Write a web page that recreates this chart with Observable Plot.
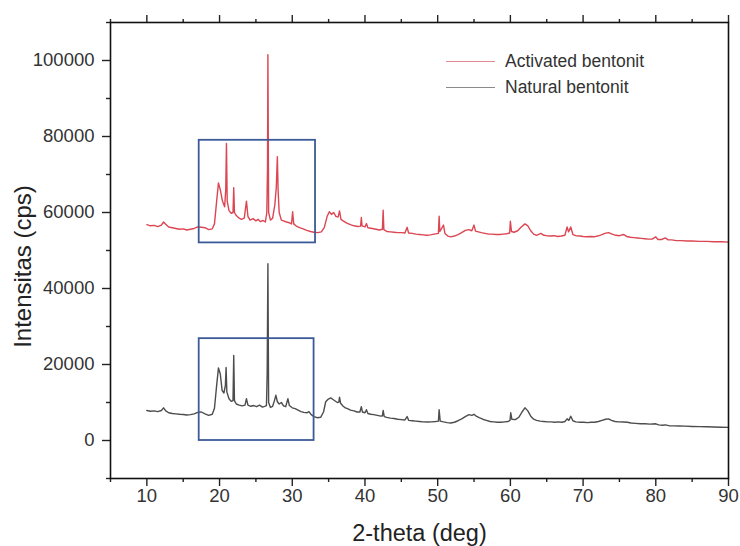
<!DOCTYPE html>
<html>
<head>
<meta charset="utf-8">
<script src="https://cdn.jsdelivr.net/npm/d3@7"></script>
<script src="https://cdn.jsdelivr.net/npm/@observablehq/plot@0.6"></script>
<style>
  html, body { margin: 0; padding: 0; background: #fff; }
  #wrap { position: relative; width: 740px; height: 546px; font-family: "Liberation Sans", Arial, sans-serif; }
  #legend { position: absolute; left: 446px; top: 48px; font-size: 17.5px; color: #333; }
  .row { display: flex; align-items: center; height: 26px; }
  .sw { width: 49px; height: 0; border-top: 1.5px solid; margin-right: 10px; }
</style>
</head>
<body>
<div id="wrap">
  <div id="chart"></div>
  <div id="legend">
    <div class="row"><span class="sw" style="border-color:#e48a93"></span>Activated bentonit</div>
    <div class="row"><span class="sw" style="border-color:#8a8a8a"></span>Natural bentonit</div>
  </div>
</div>
<script>
// ---- Data ----
const activatedTheta = [10,10.5,11,11.5,12,12.3,12.6,13,13.5,14,14.5,15,15.5,16,16.5,17,17.5,18,18.5,19,19.3,19.6,19.85,20.1,20.4,20.7,20.85,20.95,21.05,21.3,21.6,21.85,21.95,22.05,22.3,22.7,23.0,23.4,23.7,23.9,24.2,24.6,25.0,25.3,25.6,26.0,26.3,26.5,26.6,26.65,26.75,27.0,27.3,27.6,27.8,27.95,28.05,28.2,28.5,28.8,29.2,29.6,29.9,30.05,30.2,30.5,31,31.5,32,32.5,33,33.5,34,34.4,34.8,35.1,35.4,35.7,36,36.3,36.5,36.7,37,37.5,38,38.5,39,39.4,39.5,39.6,40,40.2,40.4,41,41.5,42,42.4,42.5,42.6,43,43.5,44,44.5,45,45.5,45.8,46,46.5,47,47.5,48,48.5,49,49.5,50.1,50.2,50.3,50.8,51,51.4,51.8,52.3,52.8,53.3,53.8,54.3,54.7,55,55.2,55.6,56,56.5,57,57.5,58,58.5,59,59.5,59.9,60,60.15,60.5,61,61.5,62,62.4,62.8,63.2,63.6,64.2,64.6,65,65.5,66,66.5,67,67.5,67.8,68,68.3,68.6,69,69.6,70,70.5,71,71.5,72,72.5,73,73.5,74,74.5,75,75.6,76,76.5,77,77.5,78,78.5,79,79.5,80,80.3,80.8,81.3,81.7,82.2,82.8,83.5,84.3,85,86,87,88,89,90];
const activatedCps = [56800,56500,56600,56300,56700,57500,56900,56200,56000,55800,55600,55700,55400,55600,55800,56200,56100,56000,55500,55700,57000,63000,67800,66000,63000,61500,66000,78200,63000,60500,59800,60000,66500,60000,59200,58500,58200,58500,63000,59000,58000,58400,57800,58200,57600,57900,57500,60000,72500,101500,60000,58000,58500,62000,66500,74700,66000,60000,58000,57800,57500,57300,57000,60200,57000,56500,56000,55700,55300,55000,54800,54700,54900,56000,59000,60200,59500,60000,59000,58800,60400,58200,57800,57200,56800,56500,56300,56400,58700,56500,56200,57100,56000,55800,55600,55400,55600,60600,55500,55000,54900,54800,54700,54700,54600,56100,54600,54500,54300,54200,54100,54000,54100,54300,54500,59000,55000,56700,54500,53800,53600,53800,54200,54700,55300,55500,55200,56700,55100,54900,54700,54500,54300,54300,54200,54200,54300,54400,54600,57700,55000,54800,55200,56200,57000,56500,55200,54300,54000,54500,54000,53900,53800,53900,53700,53800,54000,56200,54900,56200,54200,53900,53800,53700,53600,53700,53600,53800,54100,54500,54700,54300,54000,53900,54200,53700,53500,53400,53300,53200,53100,53000,53000,53600,52900,52900,53300,52800,52800,52600,52600,52500,52500,52400,52400,52300,52300,52200];

const naturalTheta = [10,10.5,11,11.5,12,12.3,12.6,13,13.5,14,14.5,15,15.5,16,16.5,17,17.5,18,18.5,19,19.3,19.6,19.85,20.1,20.35,20.6,20.8,20.9,21.0,21.3,21.6,21.85,21.95,22.05,22.3,22.7,23.1,23.5,23.7,23.9,24.3,24.7,25.1,25.5,25.9,26.2,26.45,26.55,26.65,26.75,27.0,27.3,27.55,27.75,27.95,28.2,28.5,28.8,29.1,29.4,29.6,30,30.4,30.8,31.2,31.6,32,32.3,32.6,33,33.4,33.9,34.3,34.6,34.9,35.3,35.6,35.9,36.2,36.4,36.5,36.65,37,37.3,37.6,38,38.5,38.9,39.3,39.5,39.65,40,40.2,40.4,40.8,41.2,41.7,42.2,42.4,42.5,42.65,43,43.5,44,44.5,45,45.5,45.8,46,46.5,47,47.5,48,48.6,49.2,49.7,50.1,50.2,50.35,50.8,51.3,51.8,52.3,52.8,53.3,53.8,54.3,54.7,55,55.3,55.7,56.2,56.7,57.2,57.7,58.2,58.7,59.2,59.7,59.95,60.05,60.2,60.7,61.2,61.6,62,62.4,62.8,63.2,63.6,64.1,64.6,65.1,65.6,66.1,66.6,67.1,67.5,67.8,68.05,68.3,68.6,69,69.6,70.1,70.6,71.1,71.6,72.1,72.6,73.1,73.5,73.9,74.4,74.9,75.6,76.1,76.6,77.2,77.9,78.5,79.2,80,80.4,80.9,81.3,81.8,82.5,83.2,84,85,86,87,88,89,90];
const naturalCps = [7900,7700,7800,7600,7900,8600,7800,7300,7100,7000,6900,6850,6700,6800,7000,7400,7500,7000,6600,6900,8500,14500,19100,17500,13200,12500,14500,19200,12800,11000,10300,10500,22400,10500,9600,9300,9100,9300,11000,9300,9000,9200,8900,9300,8800,9000,9200,17700,46500,10000,8700,9000,10500,11900,10200,9600,10000,9100,8900,11000,9200,8600,8400,8000,7600,7400,7300,7600,6800,6300,6000,6100,7500,10200,10800,11200,10800,10400,10000,10100,11400,9800,9000,8600,8400,8000,7800,7500,7500,8900,7500,7300,8100,7100,6900,6800,6600,6400,6500,7900,6300,6100,5900,5800,5600,5500,5400,6300,5300,5200,5100,5000,4900,4850,4900,5000,5100,8100,5100,4900,4700,4600,4800,5200,5700,6300,6800,6600,6900,6400,6000,5600,5300,5000,4900,4800,4800,4900,5000,5300,7300,5600,5500,6200,7500,8600,7800,6400,5600,5300,5100,5000,4900,4900,4800,4900,4800,5000,5700,5300,6400,5200,4900,4800,4800,4700,4800,4800,5000,5300,5600,5700,5300,5000,4900,4850,4800,4600,4500,4400,4400,4300,4400,4100,4000,4100,3900,3850,3800,3770,3700,3650,3600,3550,3500,3450];

// highlighted regions (blue boxes)
const boxX1 = [17.2, 17.2];
const boxX2 = [33.2, 33.0];
const boxY1 = [52000, 0];
const boxY2 = [79000, 26800];

// ticks
const xMajor = [10,20,30,40,50,60,70,80,90];
const xMinor = [5,15,25,35,45,55,65,75,85];
const yMajor = [0,20000,40000,60000,80000,100000];
const yMinor = [-10000,10000,30000,50000,70000,90000,110000];

const activated = activatedTheta.map((t, i) => ({theta: t, cps: activatedCps[i]}));
const natural = naturalTheta.map((t, i) => ({theta: t, cps: naturalCps[i]}));
const boxes = boxX1.map((x1, i) => ({x1, x2: boxX2[i], y1: boxY1[i], y2: boxY2[i]}));

const chart = Plot.plot({
  width: 740,
  height: 546,
  marginLeft: 110,
  marginRight: 12,
  marginTop: 22,
  marginBottom: 68,
  style: {fontFamily: '"Liberation Sans", Arial, sans-serif', fontSize: "18.5px", color: "#333", background: "#fff"},
  x: {domain: [5, 90]},
  y: {domain: [-10000, 110000]},
  marks: [
    Plot.line(natural, {x: "theta", y: "cps", stroke: "#4d4d4d", strokeWidth: 1.4}),
    Plot.line(activated, {x: "theta", y: "cps", stroke: "#db4652", strokeWidth: 1.4}),
    Plot.rect(boxes, {x1: "x1", x2: "x2", y1: "y1", y2: "y2", fill: "none", stroke: "#3c5a98", strokeWidth: 1.8}),
    Plot.axisX({ticks: xMajor, tickSize: 8, tickPadding: 2, label: null, stroke: "#222", strokeWidth: 1.4}),
    Plot.axisX({ticks: xMinor, tickSize: 4, tickFormat: () => "", label: null, stroke: "#222", strokeWidth: 1.4}),
    Plot.axisX({anchor: "top", ticks: xMajor, tickSize: 8, tickFormat: () => "", label: null, stroke: "#222", strokeWidth: 1.4}),
    Plot.axisX({anchor: "top", ticks: xMinor, tickSize: 4, tickFormat: () => "", label: null, stroke: "#222", strokeWidth: 1.4}),
    Plot.axisY({ticks: yMajor, tickSize: 8, tickPadding: 8, label: null, tickFormat: d => String(d), stroke: "#222", strokeWidth: 1.4}),
    Plot.axisY({ticks: yMinor, tickSize: 4, tickFormat: () => "", label: null, stroke: "#222", strokeWidth: 1.4}),
    Plot.frame({stroke: "#111", strokeWidth: 1.6}),
    Plot.text(["Intensitas (cps)"], {frameAnchor: "left", textAnchor: "middle", dx: -87, dy: 16, rotate: -90, text: d => d, fontSize: 24, fill: "#222"}),
    Plot.text(["2-theta (deg)"], {frameAnchor: "bottom", textAnchor: "middle", dy: 62, text: d => d, fontSize: 23.5, fill: "#222"})
  ]
});
document.getElementById("chart").appendChild(chart);
</script>
</body>
</html>
